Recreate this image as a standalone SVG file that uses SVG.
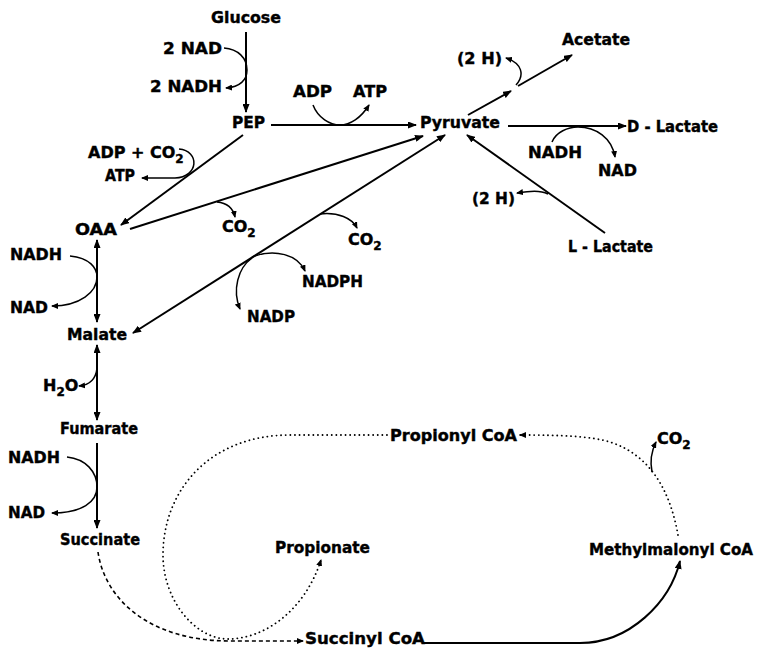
<svg xmlns="http://www.w3.org/2000/svg" width="763" height="648" viewBox="0 0 763 648">
<defs>
<marker id="ah" markerUnits="userSpaceOnUse" markerWidth="9" markerHeight="7" refX="8" refY="3.5" orient="auto-start-reverse"><path d="M0,0 L9,3.5 L0,7 z" fill="#000"/></marker>
<marker id="as" markerUnits="userSpaceOnUse" markerWidth="7" markerHeight="6" refX="6" refY="3" orient="auto-start-reverse"><path d="M0,0 L7,3 L0,6 z" fill="#000"/></marker>
<style>
text{font-family:"DejaVu Sans","Liberation Sans",sans-serif;font-weight:bold;font-size:16px;fill:#000;stroke:#000;stroke-width:0.4}
.sub{font-size:12px}
.m{fill:none;stroke:#000;stroke-width:2}
.c{fill:none;stroke:#000;stroke-width:1.5}
.dash{fill:none;stroke:#000;stroke-width:1.6;stroke-dasharray:4,3}
.dot{fill:none;stroke:#000;stroke-width:1.8;stroke-dasharray:0.1,4.5;stroke-linecap:round}
</style>
</defs>
<rect width="763" height="648" fill="#fff"/>
<g id="connectors">
<path class="m" d="M246,32 L246,112" marker-end="url(#ah)"/>
<path class="c" d="M224,48 C238,49 247,58 247,70 C247,80 240,87 226,88" marker-end="url(#as)"/>
<path class="m" d="M271,125 L416,125" marker-end="url(#ah)"/>
<path class="c" d="M313,105 C318,118 330,125 340,125 C350,125 361,118 369,105" marker-end="url(#as)"/>
<path class="m" d="M468,115 L511,91" marker-end="url(#ah)"/>
<path class="m" d="M518,86 L572,55" marker-end="url(#ah)"/>
<path class="c" d="M516,85 C525,75 522,63 506,58" marker-end="url(#as)"/>
<path class="m" d="M508,126 L626,126" marker-end="url(#ah)"/>
<path class="c" d="M552,142 C556,132 568,127 578,127 C596,127 612,138 615,157" marker-end="url(#as)"/>
<path class="m" d="M605,233 L467,135" marker-end="url(#ah)"/>
<path class="c" d="M548,194 C540,190 530,191 517,193" marker-end="url(#as)"/>
<path class="m" d="M243,135 L121,225" marker-end="url(#ah)"/>
<path class="c" d="M179,149 C200,151 199,177 175,178 L142,178" marker-end="url(#as)"/>
<path class="m" d="M130,229 L423,136" marker-end="url(#ah)"/>
<path class="c" d="M217,202 C228,203 233,208 235,217" marker-end="url(#as)"/>
<path class="m" d="M133,333 L445,135" marker-start="url(#ah)" marker-end="url(#ah)"/>
<path class="c" d="M320,214 C338,212 352,218 357,228" marker-end="url(#as)"/>
<path class="c" d="M252,257 C275,248 298,255 305,271" marker-end="url(#as)"/>
<path class="c" d="M252,258 C238,268 232,290 240,309" marker-end="url(#as)"/>
<path class="m" d="M97,240 L97,322" marker-start="url(#ah)" marker-end="url(#ah)"/>
<path class="c" d="M70,256 C90,258 97,268 97,277 C97,292 80,306 52,306" marker-end="url(#as)"/>
<path class="m" d="M97,345 L97,420" marker-start="url(#ah)" marker-end="url(#ah)"/>
<path class="c" d="M97,368 C96,378 90,385 79,386" marker-end="url(#as)"/>
<path class="m" d="M97,443 L97,528" marker-end="url(#ah)"/>
<path class="c" d="M67,457 C86,459 97,472 97,487 C97,502 82,513 52,513" marker-end="url(#as)"/>
<path class="dash" d="M98,552 C105,600 150,641 230,641 L303,641" marker-end="url(#as)"/>
<path class="dot" d="M387,435 L290,435 C210,435 163,490 163,555 C163,600 195,639 228,639 C265,639 305,610 321,560" marker-end="url(#as)"/>
<path class="m" d="M423,643 L580,643 C630,643 670,602 680,561" marker-end="url(#ah)"/>
<path class="dot" d="M678,535 C670,490 650,455 610,442 C590,436 560,435 520,435" marker-end="url(#as)"/>
<path class="c" d="M652,472 C650,462 651,452 656,442" marker-end="url(#as)"/>
</g>
<g id="n-glucose"><text x="211" y="23" textLength="70" lengthAdjust="spacingAndGlyphs">Glucose</text></g>
<g id="n-2nad"><text x="163" y="54" textLength="59" lengthAdjust="spacingAndGlyphs">2 NAD</text></g>
<g id="n-2nadh"><text x="150" y="92" textLength="72" lengthAdjust="spacingAndGlyphs">2 NADH</text></g>
<g id="n-pep"><text x="232" y="128" textLength="33" lengthAdjust="spacingAndGlyphs">PEP</text></g>
<g id="n-adp"><text x="293" y="97" textLength="39" lengthAdjust="spacingAndGlyphs">ADP</text></g>
<g id="n-atp"><text x="353" y="97" textLength="34" lengthAdjust="spacingAndGlyphs">ATP</text></g>
<g id="n-pyruvate"><text x="420" y="128" textLength="80" lengthAdjust="spacingAndGlyphs">Pyruvate</text></g>
<g id="n-2h-top"><text x="457" y="64" textLength="45" lengthAdjust="spacingAndGlyphs">(2 H)</text></g>
<g id="n-acetate"><text x="562" y="45" textLength="68" lengthAdjust="spacingAndGlyphs">Acetate</text></g>
<g id="n-dlactate"><text x="627" y="132" textLength="91" lengthAdjust="spacingAndGlyphs">D - Lactate</text></g>
<g id="n-nadh-r"><text x="528" y="158" textLength="54" lengthAdjust="spacingAndGlyphs">NADH</text></g>
<g id="n-nad-r"><text x="598" y="176" textLength="39" lengthAdjust="spacingAndGlyphs">NAD</text></g>
<g id="n-2h-low"><text x="472" y="204" textLength="43" lengthAdjust="spacingAndGlyphs">(2 H)</text></g>
<g id="n-llactate"><text x="568" y="252" textLength="85" lengthAdjust="spacingAndGlyphs">L - Lactate</text></g>
<g id="n-adpco2"><text x="88" y="158">ADP + CO<tspan class="sub" dy="5">2</tspan></text></g>
<g id="n-atp-l"><text x="105" y="181" textLength="30" lengthAdjust="spacingAndGlyphs">ATP</text></g>
<g id="n-oaa"><text x="75" y="235" textLength="42" lengthAdjust="spacingAndGlyphs">OAA</text></g>
<g id="n-co2-a"><text x="222" y="232">CO<tspan class="sub" dy="5">2</tspan></text></g>
<g id="n-co2-b"><text x="348" y="245">CO<tspan class="sub" dy="5">2</tspan></text></g>
<g id="n-nadph"><text x="302" y="287" textLength="61" lengthAdjust="spacingAndGlyphs">NADPH</text></g>
<g id="n-nadp"><text x="247" y="322" textLength="48" lengthAdjust="spacingAndGlyphs">NADP</text></g>
<g id="n-nadh-1"><text x="10" y="260" textLength="52" lengthAdjust="spacingAndGlyphs">NADH</text></g>
<g id="n-nad-1"><text x="10" y="313" textLength="38" lengthAdjust="spacingAndGlyphs">NAD</text></g>
<g id="n-malate"><text x="67" y="340" textLength="60" lengthAdjust="spacingAndGlyphs">Malate</text></g>
<g id="n-h2o"><text x="43" y="391">H<tspan class="sub" dy="5">2</tspan><tspan dy="-5">O</tspan></text></g>
<g id="n-fumarate"><text x="60" y="434" textLength="78" lengthAdjust="spacingAndGlyphs">Fumarate</text></g>
<g id="n-nadh-2"><text x="8" y="463" textLength="52" lengthAdjust="spacingAndGlyphs">NADH</text></g>
<g id="n-nad-2"><text x="8" y="518" textLength="37" lengthAdjust="spacingAndGlyphs">NAD</text></g>
<g id="n-succinate"><text x="60" y="545" textLength="80" lengthAdjust="spacingAndGlyphs">Succinate</text></g>
<g id="n-propionylcoa"><text x="390" y="441" textLength="127" lengthAdjust="spacingAndGlyphs">Propionyl CoA</text></g>
<g id="n-co2-c"><text x="657" y="444">CO<tspan class="sub" dy="5">2</tspan></text></g>
<g id="n-propionate"><text x="275" y="553" textLength="95" lengthAdjust="spacingAndGlyphs">Propionate</text></g>
<g id="n-methylmalonylcoa"><text x="589" y="555" textLength="164" lengthAdjust="spacingAndGlyphs" font-size="15">Methylmalonyl CoA</text></g>
<g id="n-succinylcoa"><text x="305" y="644" textLength="120" lengthAdjust="spacingAndGlyphs">Succinyl CoA</text></g>
</svg>
